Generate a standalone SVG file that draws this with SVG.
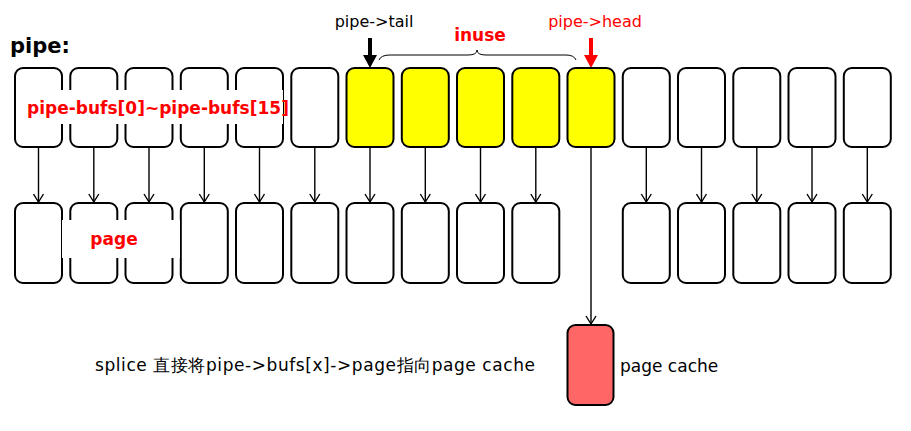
<svg xmlns="http://www.w3.org/2000/svg" width="911" height="431" viewBox="0 0 911 431">
<defs>
<marker id="ah" markerWidth="12" markerHeight="12" refX="9" refY="6" orient="auto" markerUnits="userSpaceOnUse"><path d="M1,1 L9,6 L1,11" fill="none" stroke="#000" stroke-width="1.4"/></marker>
</defs>
<style>
.b{fill:#fff;stroke:#000;stroke-width:2}
.y{fill:#ffff00}
.c{stroke:#000;stroke-width:1.4;fill:none;marker-end:url(#ah)}
text{font-family:"DejaVu Sans","Noto Sans",sans-serif}
.r{fill:#ff0000;font-weight:bold;font-size:17px}
</style>
<rect width="911" height="431" fill="#fff"/>
<text x="10" y="53" font-size="21" font-weight="bold">pipe:</text>
<g id="connectors">
<path class="c" d="M38.5,147V202"/><path class="c" d="M93.8,147V202"/><path class="c" d="M149,147V202"/><path class="c" d="M204.3,147V202"/><path class="c" d="M259.5,147V202"/><path class="c" d="M314.8,147V202"/><path class="c" d="M370,147V202"/><path class="c" d="M425.3,147V202"/><path class="c" d="M480.5,147V202"/><path class="c" d="M535.8,147V202"/><path class="c" d="M591,147V324"/><path class="c" d="M646.3,147V202"/><path class="c" d="M701.5,147V202"/><path class="c" d="M756.8,147V202"/><path class="c" d="M812,147V202"/><path class="c" d="M867.3,147V202"/>
<path d="M370,38V57" stroke="#000" stroke-width="4"/><path d="M363,55L370,68L377,55Z" fill="#000"/>
<path d="M591,38V57" stroke="#f00" stroke-width="4"/><path d="M584,55L591,68L598,55Z" fill="#f00"/>
<path d="M379,60Q381,55 390,55H468Q477,55 477,50Q477,55 486,55H566Q574,55 576,60" fill="none" stroke="#000" stroke-width="1"/>
</g>
<g id="bufs">
<rect class="b" x="15" y="68" width="47" height="79" rx="8"/><rect class="b" x="70.3" y="68" width="47" height="79" rx="8"/><rect class="b" x="125.5" y="68" width="47" height="79" rx="8"/><rect class="b" x="180.8" y="68" width="47" height="79" rx="8"/><rect class="b" x="236" y="68" width="47" height="79" rx="8"/><rect class="b" x="291.3" y="68" width="47" height="79" rx="8"/>
<rect class="b y" x="346.5" y="68" width="47" height="79" rx="8"/><rect class="b y" x="401.8" y="68" width="47" height="79" rx="8"/><rect class="b y" x="457" y="68" width="47" height="79" rx="8"/><rect class="b y" x="512.3" y="68" width="47" height="79" rx="8"/><rect class="b y" x="567.5" y="68" width="47" height="79" rx="8"/>
<rect class="b" x="622.8" y="68" width="47" height="79" rx="8"/><rect class="b" x="678" y="68" width="47" height="79" rx="8"/><rect class="b" x="733.3" y="68" width="47" height="79" rx="8"/><rect class="b" x="788.5" y="68" width="47" height="79" rx="8"/><rect class="b" x="843.8" y="68" width="47" height="79" rx="8"/>
</g>
<g id="pages">
<rect class="b" x="15" y="203" width="47" height="80" rx="8"/><rect class="b" x="70.3" y="203" width="47" height="80" rx="8"/><rect class="b" x="125.5" y="203" width="47" height="80" rx="8"/><rect class="b" x="180.8" y="203" width="47" height="80" rx="8"/><rect class="b" x="236" y="203" width="47" height="80" rx="8"/><rect class="b" x="291.3" y="203" width="47" height="80" rx="8"/><rect class="b" x="346.5" y="203" width="47" height="80" rx="8"/><rect class="b" x="401.8" y="203" width="47" height="80" rx="8"/><rect class="b" x="457" y="203" width="47" height="80" rx="8"/><rect class="b" x="512.3" y="203" width="47" height="80" rx="8"/>
<rect class="b" x="622.8" y="203" width="47" height="80" rx="8"/><rect class="b" x="678" y="203" width="47" height="80" rx="8"/><rect class="b" x="733.3" y="203" width="47" height="80" rx="8"/><rect class="b" x="788.5" y="203" width="47" height="80" rx="8"/><rect class="b" x="843.8" y="203" width="47" height="80" rx="8"/>
</g>
<g id="pagecache">
<rect x="567.5" y="325" width="46" height="80" rx="8" fill="#ff6666" stroke="#000" stroke-width="2"/>
<text x="620" y="372" font-size="17">page cache</text>
</g>
<g id="labels">
<rect x="32" y="90" width="251" height="34" fill="#fff"/>
<text class="r" x="158" y="114" text-anchor="middle">pipe-bufs[0]~pipe-bufs[15]</text>
<rect x="62" y="220" width="118" height="38" fill="#fff"/>
<text class="r" x="114" y="245" text-anchor="middle">page</text>
<text x="374" y="27" font-size="16" text-anchor="middle">pipe-&gt;tail</text>
<text x="595" y="27" font-size="16" fill="#f00" text-anchor="middle">pipe-&gt;head</text>
<text class="r" x="480" y="41" text-anchor="middle">inuse</text>
<text x="95" y="371" font-size="17" font-family="'DejaVu Sans','Noto Sans CJK SC',sans-serif" textLength="440">splice 直接将pipe-&gt;bufs[x]-&gt;page指向page cache</text>
</g>
</svg>
